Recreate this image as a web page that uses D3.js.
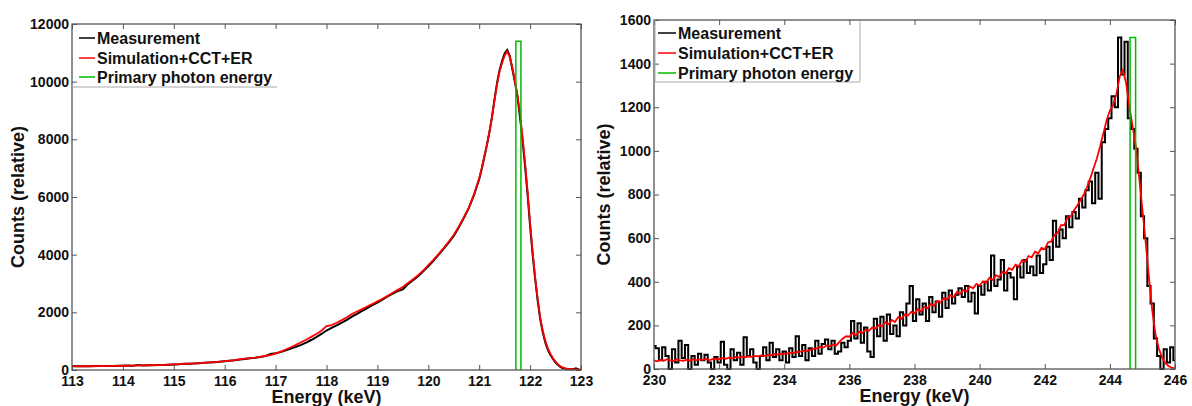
<!DOCTYPE html>
<meta charset="utf-8">
<style>
body { margin: 0; background: #fff; }
text { font-family: "Liberation Sans", Arial, sans-serif; font-weight: bold; }
</style>
<body>
<svg id="chart" width="1192" height="406"></svg>
</body>
<script src="https://d3js.org/d3.v7.min.js"></script>
<script>
// ---- left spectrum (113 - 123 keV) ----
// 0.1 keV bins up to 121, 0.05 keV bins around the peak
var leftEnergy = d3.range(1130, 1210).map(function(d){ return d / 10; })
  .concat(d3.range(2420, 2461).map(function(d){ return d / 20; }));

var leftMeas = [
  135,130,132,128,134,138,135,140,138,146,
  148,152,150,172,158,162,168,175,176,182,
  190,200,215,218,225,235,248,258,270,285,
  300,318,335,360,385,405,425,450,480,560,
  580,620,680,740,800,870,950,1040,1140,1250,
  1370,1460,1550,1640,1740,1850,1950,2050,2150,2250,
  2340,2440,2550,2650,2740,2800,2980,3110,3250,3420,
  3600,3790,3990,4200,4420,4650,4950,5280,5630,6080,
  6620,6980,7380,7790,8240,8760,9380,9950,10400,10720,
  10980,11100,10900,10450,10000,9500,8800,8000,7100,6100,
  5000,4000,3150,2400,1750,1300,950,700,520,380,
  260,170,100,60,40,30,25,30,60,20,10
];
var leftSim = [
  130,128,125,130,132,135,138,136,142,145,
  150,148,152,158,160,165,170,172,178,185,
  195,205,212,220,228,240,250,262,275,290,
  310,325,340,380,395,410,430,455,490,520,
  570,640,710,790,870,960,1050,1150,1250,1360,
  1520,1560,1640,1730,1830,1940,2030,2110,2200,2290,
  2380,2470,2570,2680,2780,2880,3020,3150,3290,3450,
  3640,3820,4020,4230,4450,4680,4980,5300,5650,6100,
  6650,7000,7400,7800,8250,8750,9350,9900,10350,10650,
  10900,11050,10850,10500,10050,9550,8900,8100,7200,6200,
  5100,4100,3200,2450,1800,1350,1000,750,560,410,
  290,190,120,80,55,40,30,25,20,15,10
];
// primary photon energy marker: [from keV, to keV, height]
var leftPrimary = [121.72, 121.82, 11400];

// ---- right spectrum (230 - 246 keV), 0.1 keV bins ----
var rightEnergy = d3.range(2300, 2461).map(function(d){ return d / 10; });

var rightMeas = [
  105,95,40,100,60,0,90,30,130,50,
  110,0,60,20,70,40,65,30,0,55,
  30,125,20,0,90,40,75,20,145,60,
  90,30,0,60,100,40,120,55,90,40,
  80,30,95,55,150,60,110,40,95,60,
  130,70,115,135,90,130,70,80,120,100,
  130,220,140,210,120,190,80,55,230,150,
  240,130,250,160,200,150,260,200,300,380,
  220,320,250,300,220,330,260,310,240,350,
  280,360,300,340,370,330,380,310,350,255,
  380,340,400,360,520,380,410,500,360,440,
  420,320,470,420,500,440,470,430,520,440,
  480,560,500,680,560,640,600,700,650,720,
  690,780,740,820,860,760,900,780,1040,1100,
  1150,1250,1200,1520,1350,1500,1150,1100,1010,900,
  700,600,380,300,140,60,0,90,30,100,40
];
var rightSim = [
  40,35,42,38,45,40,36,44,40,38,
  42,38,45,40,44,42,46,40,45,48,
  45,50,47,52,49,55,52,56,54,58,
  56,60,58,62,60,65,63,68,66,70,
  68,72,75,73,78,80,84,82,88,92,
  95,102,98,108,104,112,108,125,140,150,
  148,165,155,172,165,180,175,190,185,200,
  195,215,205,225,215,238,230,250,245,262,
  255,275,262,285,278,298,290,312,305,325,
  318,338,330,352,345,362,355,378,370,390,
  382,402,395,418,408,430,422,445,438,462,
  455,478,470,498,492,518,512,538,530,555,
  550,580,585,615,625,660,660,695,700,728,
  750,775,800,835,875,920,965,1020,1080,1140,
  1185,1210,1260,1340,1370,1310,1200,1110,1020,880,
  730,580,420,270,160,95,55,28,14,6,3
];
var rightPrimary = [244.62, 244.79, 1520];

var legendLabels = ["Measurement", "Simulation+CCT+ER", "Primary photon energy"];
var legendColors = ["#000000", "#ff0000", "#00bb00"];

var svg = d3.select("#chart");

drawPanel({
  left: 72, right: 581, top: 24, bottom: 370,
  xDomain: [113, 123], yDomain: [0, 12000],
  xTicks: d3.range(113, 124, 1), yTicks: d3.range(0, 12001, 2000),
  energy: leftEnergy, meas: leftMeas, sim: leftSim, primary: leftPrimary,
  measCurve: d3.curveLinear,
  titleX: 24,
  legend: {x0: 72, x1: 277, y1: 87, rows: [44, 64, 83], line: [79, 95], text: 97, sides: false}
});

drawPanel({
  left: 654, right: 1175, top: 20, bottom: 369,
  xDomain: [230, 246], yDomain: [0, 1600],
  xTicks: d3.range(230, 247, 2), yTicks: d3.range(0, 1601, 200),
  energy: rightEnergy, meas: rightMeas, sim: rightSim, primary: rightPrimary,
  measCurve: d3.curveStep,
  titleX: 610,
  legend: {x0: 655, x1: 860, y1: 82, rows: [39, 59, 79], line: [658, 676], text: 678, sides: true}
});

function drawPanel(p){
  var x = d3.scaleLinear().domain(p.xDomain).range([p.left, p.right]);
  var y = d3.scaleLinear().domain(p.yDomain).range([p.bottom, p.top]);
  var g = svg.append("g");

  // inward ticks on all four sides, MATLAB style
  var axes = [
    [d3.axisBottom(x).tickValues(p.xTicks).tickFormat(d3.format("d")), "translate(0," + p.bottom + ")"],
    [d3.axisTop(x).tickValues(p.xTicks).tickFormat(""), "translate(0," + p.top + ")"],
    [d3.axisLeft(y).tickValues(p.yTicks).tickFormat(d3.format("d")), "translate(" + p.left + ",0)"],
    [d3.axisRight(y).tickValues(p.yTicks).tickFormat(""), "translate(" + p.right + ",0)"]
  ];
  axes.forEach(function(a, i){
    var ax = g.append("g").attr("transform", a[1])
      .call(a[0].tickSize(-5).tickSizeOuter(0).tickPadding(i == 0 ? 6 : 3));
    ax.select(".domain").remove();
    ax.selectAll("line").attr("stroke", "#555");
    ax.selectAll("text").attr("fill", "#111").style("font-size", "14px");
  });

  var energy = p.energy;
  var measLine = d3.line()
    .x(function(d, i){ return x(energy[i]); })
    .y(function(d){ return y(d); })
    .curve(p.measCurve);
  var simLine = d3.line()
    .x(function(d, i){ return x(energy[i]); })
    .y(function(d){ return y(d); });

  g.append("path").attr("d", measLine(p.meas))
    .attr("fill", "none").attr("stroke", "#000").attr("stroke-width", 2);
  g.append("path").attr("d", simLine(p.sim))
    .attr("fill", "none").attr("stroke", "#ff0000").attr("stroke-width", 1.8);

  var pr = p.primary;
  g.append("path")
    .attr("d", "M" + x(pr[0]) + "," + y(0) + "V" + y(pr[2]) + "H" + x(pr[1]) + "V" + y(0))
    .attr("fill", "none").attr("stroke", "#00bb00").attr("stroke-width", 1.5);

  // frame
  g.append("rect")
    .attr("x", p.left).attr("y", p.top)
    .attr("width", p.right - p.left).attr("height", p.bottom - p.top)
    .attr("fill", "none").attr("stroke", "#555").attr("stroke-width", 1.3);

  // axis titles
  g.append("text")
    .attr("x", (p.left + p.right) / 2).attr("y", p.bottom + 33)
    .attr("text-anchor", "middle").style("font-size", "18px").attr("fill", "#111")
    .text("Energy (keV)");
  g.append("text")
    .attr("transform", "translate(" + p.titleX + "," + (p.top + p.bottom) / 2 + ") rotate(-90)")
    .attr("text-anchor", "middle").style("font-size", "18px").attr("fill", "#111")
    .text("Counts (relative)");

  // legend
  var L = p.legend;
  var lg = g.append("g");
  lg.append("line").attr("x1", L.x0).attr("x2", L.x1).attr("y1", L.y1).attr("y2", L.y1)
    .attr("stroke", "#aaa");
  if (L.sides) {
    lg.append("line").attr("x1", L.x0).attr("x2", L.x0).attr("y1", p.top).attr("y2", L.y1).attr("stroke", "#aaa");
    lg.append("line").attr("x1", L.x1).attr("x2", L.x1).attr("y1", p.top).attr("y2", L.y1).attr("stroke", "#aaa");
  }
  legendLabels.forEach(function(t, i){
    lg.append("line").attr("x1", L.line[0]).attr("x2", L.line[1])
      .attr("y1", L.rows[i] - 6).attr("y2", L.rows[i] - 6)
      .attr("stroke", legendColors[i]).attr("stroke-width", 1.5);
    lg.append("text").attr("x", L.text).attr("y", L.rows[i])
      .style("font-size", "16px").attr("fill", "#111").text(t);
  });
}
</script>
